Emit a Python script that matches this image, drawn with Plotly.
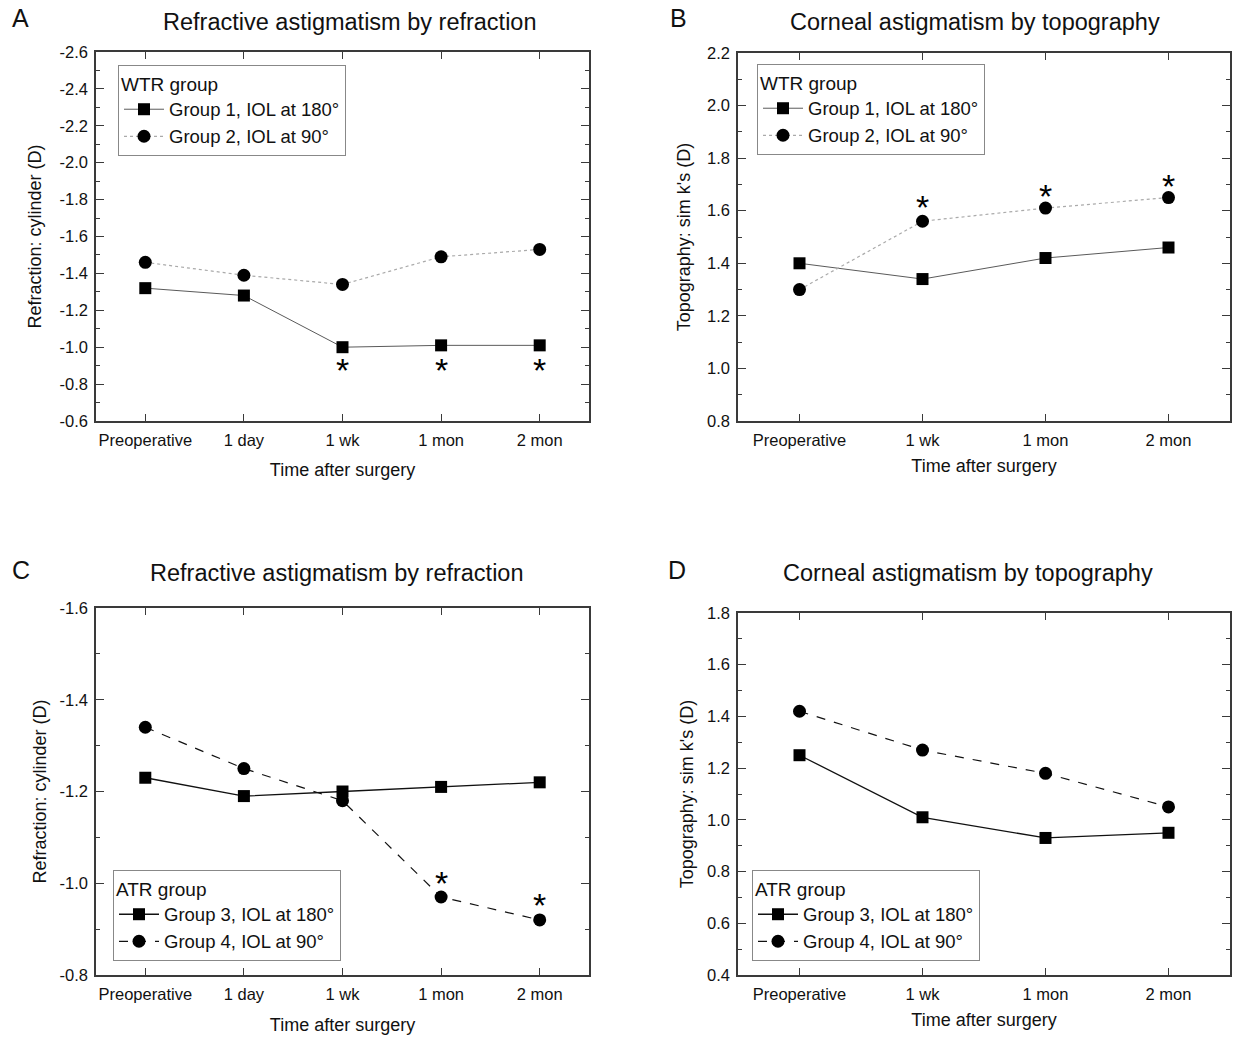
import plotly.graph_objects as go

# ---------------- data ----------------
cats_ac = ["Preoperative", "1 day", "1 wk", "1 mon", "2 mon"]
cats_bd = ["Preoperative", "1 wk", "1 mon", "2 mon"]

# Panel A: refractive astigmatism (WTR)
a_group1 = [-1.32, -1.28, -1.00, -1.01, -1.01]
a_group2 = [-1.46, -1.39, -1.34, -1.49, -1.53]
a_star_x = ["1 wk", "1 mon", "2 mon"]
a_star_y = [-0.90, -0.90, -0.90]
a_yticks = [-2.6, -2.4, -2.2, -2.0, -1.8, -1.6, -1.4, -1.2, -1.0, -0.8, -0.6]

# Panel B: corneal astigmatism (WTR)
b_group1 = [1.40, 1.34, 1.42, 1.46]
b_group2 = [1.30, 1.56, 1.61, 1.65]
b_star_x = ["1 wk", "1 mon", "2 mon"]
b_star_y = [1.63, 1.67, 1.71]
b_yticks = [0.8, 1.0, 1.2, 1.4, 1.6, 1.8, 2.0, 2.2]

# Panel C: refractive astigmatism (ATR)
c_group3 = [-1.23, -1.19, -1.20, -1.21, -1.22]
c_group4 = [-1.34, -1.25, -1.18, -0.97, -0.92]
c_star_x = ["1 mon", "2 mon"]
c_star_y = [-1.01, -0.962]
c_yticks = [-1.6, -1.4, -1.2, -1.0, -0.8]

# Panel D: corneal astigmatism (ATR)
d_group3 = [1.25, 1.01, 0.93, 0.95]
d_group4 = [1.42, 1.27, 1.18, 1.05]
d_yticks = [0.4, 0.6, 0.8, 1.0, 1.2, 1.4, 1.6, 1.8]

# ---------------- layout helpers ----------------
W, H = 1235, 1039
FONT = "Liberation Sans, Arial, sans-serif"
AXC = "#3a3a3a"
TXT = "#111111"


def dx(l, r):
    return [l / W, r / W]


def dy(t, b):
    return [1 - b / H, 1 - t / H]


fig = go.Figure()


def add_panel(n, cats, s1, s2, names, styles, legend_id, star_x=None, star_y=None):
    xa = "x" if n == 1 else f"x{n}"
    ya = "y" if n == 1 else f"y{n}"
    (c1, w1, d1), (c2, w2, d2) = styles
    fig.add_trace(go.Scatter(
        x=cats, y=s1, name=names[0], xaxis=xa, yaxis=ya, legend=legend_id,
        mode="lines+markers",
        line=dict(color=c1, width=w1, dash=d1),
        marker=dict(symbol="square", size=12, color="black"),
    ))
    fig.add_trace(go.Scatter(
        x=cats, y=s2, name=names[1], xaxis=xa, yaxis=ya, legend=legend_id,
        mode="lines+markers",
        line=dict(color=c2, width=w2, dash=d2),
        marker=dict(symbol="circle", size=13, color="black"),
    ))
    if star_x:
        for sx, sy in zip(star_x, star_y):
            fig.add_annotation(
                x=sx, y=sy, xref=xa, yref=ya, text="*", showarrow=False,
                xanchor="center", yanchor="middle", yshift=-4,
                font=dict(family=FONT, size=34, color="black"),
            )


add_panel(1, cats_ac, a_group1, a_group2,
          ["Group 1, IOL at 180°", "Group 2, IOL at 90°"],
          [("#5a5a5a", 1, "solid"), ("#aaaaaa", 1.2, "dot")], "legend",
          a_star_x, a_star_y)
add_panel(2, cats_bd, b_group1, b_group2,
          ["Group 1, IOL at 180°", "Group 2, IOL at 90°"],
          [("#5a5a5a", 1, "solid"), ("#aaaaaa", 1.2, "dot")], "legend2",
          b_star_x, b_star_y)
add_panel(3, cats_ac, c_group3, c_group4,
          ["Group 3, IOL at 180°", "Group 4, IOL at 90°"],
          [("#111111", 1.3, "solid"), ("#111111", 1.2, "dash")], "legend3",
          c_star_x, c_star_y)
add_panel(4, cats_bd, d_group3, d_group4,
          ["Group 3, IOL at 180°", "Group 4, IOL at 90°"],
          [("#111111", 1.3, "solid"), ("#111111", 1.2, "dash")], "legend4")


def xaxis(dom, ncat, anchor, standoff):
    return dict(
        domain=dom, anchor=anchor, type="category", range=[-0.5, ncat - 0.5],
        showline=True, linecolor=AXC, linewidth=1.5, mirror="ticks",
        ticks="inside", ticklen=7, tickwidth=1.2, tickcolor=AXC,
        showgrid=False, zeroline=False, automargin=False,
        ticklabelstandoff=3,
        tickfont=dict(family=FONT, size=16.5, color=TXT),
        title=dict(text="Time after surgery", standoff=standoff,
                   font=dict(family=FONT, size=18, color=TXT)),
    )


def yaxis(dom, ticks, rng, anchor, title, standoff):
    return dict(
        domain=dom, anchor=anchor, range=rng,
        tickmode="array", tickvals=ticks, ticktext=[f"{v:.1f}" for v in ticks],
        showline=True, linecolor=AXC, linewidth=1.5, mirror="ticks",
        ticks="inside", ticklen=8, tickwidth=1.2, tickcolor=AXC,
        minor=dict(ticks="inside", ticklen=4, tickwidth=1.2, tickcolor=AXC,
                   tickmode="linear", tick0=0, dtick=0.1, showgrid=False),
        showgrid=False, zeroline=False, automargin=False,
        ticklabelstandoff=3,
        tickfont=dict(family=FONT, size=16.5, color=TXT),
        title=dict(text=title, standoff=standoff,
                   font=dict(family=FONT, size=18, color=TXT)),
    )


title_ref = "Refraction: cylinder (D)"
title_top = "Topography: sim k's (D)"

fig.update_layout(
    width=W, height=H,
    margin=dict(l=0, r=0, t=0, b=0),
    paper_bgcolor="white", plot_bgcolor="white",
    font=dict(family=FONT, color=TXT),
    xaxis=xaxis(dx(96, 589), 5, "y", 16),
    yaxis=yaxis(dy(52, 421), a_yticks, [-0.6, -2.6], "x", title_ref, 13),
    xaxis2=xaxis(dx(738, 1230), 4, "y2", 12),
    yaxis2=yaxis(dy(53, 421), b_yticks, [0.8, 2.2], "x2", title_top, 12),
    xaxis3=xaxis(dx(96, 589), 5, "y3", 17),
    yaxis3=yaxis(dy(608, 975), c_yticks, [-0.8, -1.6], "x3", title_ref, 8),
    xaxis4=xaxis(dx(738, 1230), 4, "y4", 12),
    yaxis4=yaxis(dy(613, 975), d_yticks, [0.4, 1.8], "x4", title_top, 9),
)

leg_common = dict(
    xanchor="left", yanchor="top", bgcolor="white",
    bordercolor="#888888", borderwidth=1,
    font=dict(family=FONT, size=18.5, color=TXT),
    itemwidth=40, tracegroupgap=0,
)
fig.update_layout(
    legend=dict(x=118 / W, y=1 - 65 / H, title=dict(text="WTR group", font=dict(family=FONT, size=19)), **leg_common),
    legend2=dict(x=757 / W, y=1 - 64 / H, title=dict(text="WTR group", font=dict(family=FONT, size=19)), **leg_common),
    legend3=dict(x=113 / W, y=1 - 870 / H, title=dict(text="ATR group", font=dict(family=FONT, size=19)), **leg_common),
    legend4=dict(x=752 / W, y=1 - 870 / H, title=dict(text="ATR group", font=dict(family=FONT, size=19)), **leg_common),
)

# panel titles and letters
titles = [
    ("A", 10, 18, "Refractive astigmatism by refraction", 350, 22),
    ("B", 668, 18, "Corneal astigmatism by topography", 975, 22),
    ("C", 10, 570, "Refractive astigmatism by refraction", 337, 573),
    ("D", 666, 570, "Corneal astigmatism by topography", 968, 573),
]
for letter, lx, ly, t, tx, ty in titles:
    fig.add_annotation(text=letter, x=lx / W, y=1 - ly / H, xref="paper", yref="paper",
                       xanchor="left", yanchor="middle", showarrow=False,
                       font=dict(family=FONT, size=25, color=TXT))
    fig.add_annotation(text=t, x=tx / W, y=1 - ty / H, xref="paper", yref="paper",
                       xanchor="center", yanchor="middle", showarrow=False,
                       font=dict(family=FONT, size=23.5, color=TXT))

fig.write_html("out.html", config={"displayModeBar": False},
               post_script="document.body.style.margin='0px';")
